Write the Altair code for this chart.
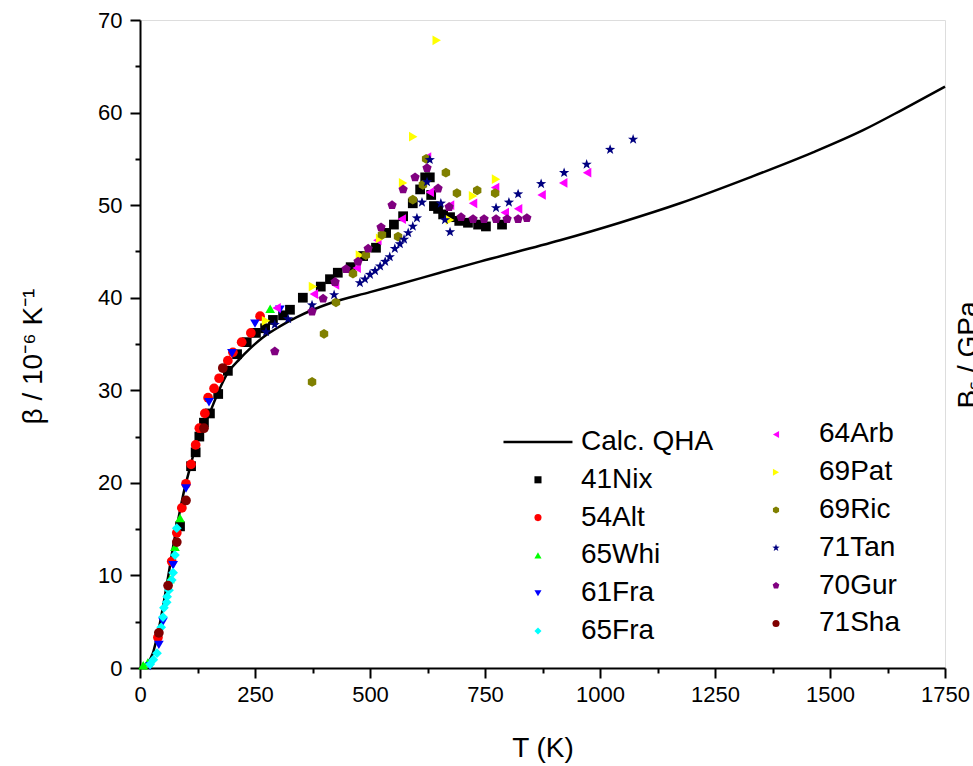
import altair as alt
import pandas as pd

# ---------------- data ----------------
calc_T = [0, 4, 15, 28, 39, 50, 61, 72, 83, 93, 109, 126, 152, 170, 191, 217, 239, 267, 304,
          341, 376, 413, 500, 559, 652, 739, 913, 1043, 1174, 1326, 1463, 1572, 1657, 1750]
calc_b = [0, 0.1, 0.5, 1.6, 3.8, 6.6, 9.8, 13.1, 16.0, 18.5, 21.7, 24.8, 27.6, 29.8, 31.9, 33.4,
          34.5, 35.7, 36.9, 37.9, 38.7, 39.4, 40.6, 41.4, 42.7, 43.9, 46.2, 48.1, 50.2, 53.0,
          55.7, 58.1, 60.3, 62.8]

nix_T = [87, 111, 121, 129, 139, 152, 170, 191, 211, 232, 252, 272, 289, 311, 326, 354, 393, 413,
         430, 458, 485, 513, 535, 552, 572, 593, 609, 620, 630, 633, 639, 648, 659, 674, 694, 713,
         735, 752, 787]
nix_b = [15.3, 21.8, 23.3, 25.0, 26.5, 27.5, 29.6, 32.1, 33.9, 35.2, 36.2, 36.7, 37.6, 38.1, 38.7,
         40.0, 41.2, 42.0, 42.7, 43.3, 44.5, 45.4, 47.0, 47.9, 48.8, 50.2, 51.7, 53.0, 53.0, 51.1,
         49.9, 49.6, 49.0, 48.7, 48.3, 48.1, 47.9, 47.7, 47.9]

alt_T = [39, 69, 80, 91, 100, 111, 121, 129, 141, 148, 161, 172, 191, 202, 221, 241, 261]
alt_b = [3.3, 11.5, 14.6, 17.3, 19.9, 22.0, 24.1, 25.9, 27.5, 29.2, 30.2, 31.3, 33.2, 34.1, 35.2,
         36.2, 38.0]

whi_T = [7, 17, 65, 76, 87, 283]
whi_b = [0.3, 0.6, 9.6, 13.1, 16.2, 38.8]

fra61_T = [22, 41, 50, 72, 100, 150, 200, 250, 304]
fra61_b = [0.2, 2.5, 5.0, 11.1, 19.4, 28.7, 34.0, 37.2, 38.7]

fra65_T = [22, 29, 37, 46, 50, 52, 58, 59, 63, 69, 72, 76, 80]
fra65_b = [0.4, 0.9, 1.6, 4.4, 5.5, 6.5, 7.1, 7.7, 8.4, 9.5, 10.3, 12.2, 15.1]

arb_T = [297, 378, 424, 471, 516, 569, 624, 630, 674, 724, 772, 793, 822, 873, 920, 972]
arb_b = [38.9, 40.4, 41.4, 43.2, 46.2, 48.5, 55.2, 51.4, 50.0, 50.2, 51.9, 49.2, 49.6, 51.1,
         52.4, 53.5]

pat_T = [274, 376, 478, 522, 572, 594, 645, 674, 724, 774]
pat_b = [37.5, 41.2, 44.6, 46.4, 52.4, 57.4, 67.8, 48.4, 51.0, 52.8]

ric_T = [374, 400, 426, 463, 491, 526, 561, 593, 615, 622, 665, 689, 733, 772]
ric_b = [30.9, 36.1, 39.5, 42.6, 44.6, 46.8, 46.6, 50.6, 52.2, 55.0, 53.5, 51.3, 51.6, 51.3]

tan_T = [274, 293, 322, 374, 422, 478, 489, 500, 511, 522, 533, 543, 554, 565, 574, 583, 593,
         602, 613, 624, 630, 654, 663, 674, 774, 802, 822, 872, 922, 971, 1022, 1072]
tan_b = [36.3, 37.1, 37.7, 39.2, 40.3, 41.6, 42.0, 42.5, 42.9, 43.4, 43.9, 44.4, 45.3, 45.8,
         46.3, 47.0, 47.7, 48.6, 50.3, 52.5, 54.9, 50.2, 48.4, 47.1, 49.7, 50.3, 51.2, 52.3,
         53.5, 54.4, 56.0, 57.1]

gur_T = [293, 374, 398, 424, 448, 474, 496, 524, 548, 572, 598, 624, 648, 672, 698, 724, 748,
         774, 798, 822, 841]
gur_b = [34.2, 38.5, 39.9, 41.7, 43.1, 43.9, 45.3, 47.6, 50.0, 51.7, 53.0, 54.0, 51.8, 49.8,
         48.7, 48.5, 48.5, 48.5, 48.5, 48.5, 48.6]

sha_T = [41, 61, 80, 100, 139, 180]
sha_b = [3.8, 8.9, 13.6, 18.1, 25.9, 32.4]

series_names = ["41Nix", "54Alt", "65Whi", "61Fra", "65Fra", "64Arb",
                "69Pat", "69Ric", "71Tan", "70Gur", "71Sha"]
series_T = [nix_T, alt_T, whi_T, fra61_T, fra65_T, arb_T, pat_T, ric_T, tan_T, gur_T, sha_T]
series_b = [nix_b, alt_b, whi_b, fra61_b, fra65_b, arb_b, pat_b, ric_b, tan_b, gur_b, sha_b]
calc_name = "Calc. QHA"

# ---------------- styles ----------------
colors = ["#000000", "#ff0000", "#00ff00", "#0000ff", "#00ffff", "#ff00ff",
          "#ffff00", "#808000", "#000080", "#800080", "#800000"]
HEX = "M0,-1L0.866,-0.5L0.866,0.5L0,1L-0.866,0.5L-0.866,-0.5Z"
STAR = ("M0,-1.1L0.26,-0.36L1.05,-0.34L0.42,0.14L0.65,0.89L0,0.44L-0.65,0.89"
        "L-0.42,0.14L-1.05,-0.34L-0.26,-0.36Z")
PENT = "M0,-1L0.951,-0.309L0.588,0.809L-0.588,0.809L-0.951,-0.309Z"
shapes = ["square", "circle", "triangle-up", "triangle-down", "diamond", "triangle-left",
          "triangle-right", HEX, STAR, PENT, "circle"]

FONT = "Liberation Sans"

# ---------------- tables ----------------
df_curve = pd.DataFrame({"T": calc_T, "beta": calc_b})
rows = []
for i, (name, Ts, bs) in enumerate(zip(series_names, series_T, series_b)):
    for t, b in zip(Ts, bs):
        rows.append({"T": t, "beta": b, "series": name, "idx": i})
df_pts = pd.DataFrame(rows)

leg_labels = [calc_name] + series_names
leg_rows = []
for k, lab in enumerate(leg_labels):
    col = 0 if k < 6 else 1
    row = k if k < 6 else k - 6
    leg_rows.append({"label": lab, "series": lab, "lc": col, "lr": row - 0.2 * col})
df_leg = pd.DataFrame(leg_rows)

# ---------------- scales / axes ----------------
xs = alt.Scale(domain=[0, 1750], nice=False, zero=False)
ys = alt.Scale(domain=[0, 70], nice=False, zero=False)
col_scale = alt.Scale(domain=series_names, range=colors)
shp_scale = alt.Scale(domain=series_names, range=shapes)

axis_common = dict(
    labelFont=FONT, labelFontSize=22, labelColor="black",
    titleFont=FONT, titleFontSize=28, titleFontWeight="normal", titleColor="black",
    domainColor="black", domainWidth=2, tickColor="black", tickWidth=2, grid=False,
)
xaxis = alt.Axis(
    title="T (K)", values=list(range(0, 1751, 125)), format="d",
    labelExpr="datum.value % 250 === 0 ? datum.label : ''",
    tickSize={"condition": {"test": "datum.value % 250 === 0", "value": 10}, "value": 5},
    labelPadding=6, labelFlush=False, labelOverlap=False,
    titleY=80, titleBaseline="middle", **axis_common,
)
yaxis = alt.Axis(
    title="β / 10⁻⁶ K⁻¹", values=list(range(0, 71, 5)), format="d",
    labelExpr="datum.value % 10 === 0 ? datum.label : ''",
    tickSize={"condition": {"test": "datum.value % 10 === 0", "value": 10}, "value": 5},
    labelPadding=8, labelFlush=False, labelOverlap=False,
    titleX=-107, titleY=336, titleAngle=270, titleBaseline="middle", **axis_common,
)

curve = alt.Chart(df_curve).mark_line(color="black", strokeWidth=2.5, interpolate="monotone").encode(
    x=alt.X("T:Q", scale=xs, axis=xaxis),
    y=alt.Y("beta:Q", scale=ys, axis=yaxis),
)
pts = alt.Chart(df_pts).mark_point(filled=True, opacity=1, size=95, strokeWidth=0).encode(
    x=alt.X("T:Q", scale=xs),
    y=alt.Y("beta:Q", scale=ys),
    color=alt.Color("series:N", scale=col_scale, legend=None),
    shape=alt.Shape("series:N", scale=shp_scale, legend=None),
    order=alt.Order("idx:Q"),
)
main = alt.layer(curve, pts)

# ---------------- legend ----------------
lx = alt.X("lc:Q", scale=alt.Scale(domain=[-1.672, 1.710], nice=False, zero=False), axis=None)
ly = alt.Y("lr:Q", scale=alt.Scale(domain=[-11.164, 5.979], nice=False, zero=False, reverse=True), axis=None)

leg_line = alt.Chart(df_leg).transform_filter(alt.datum.series == calc_name).mark_point(
    shape="stroke", size=69 * 69, filled=False, strokeWidth=2.5, color="black", opacity=1
).encode(x=lx, y=ly)
leg_pts = alt.Chart(df_leg).transform_filter(alt.datum.series != calc_name).mark_point(
    filled=True, opacity=1, size=50, strokeWidth=0
).encode(
    x=lx, y=ly,
    color=alt.Color("series:N", scale=col_scale, legend=None),
    shape=alt.Shape("series:N", scale=shp_scale, legend=None),
)
leg_text = alt.Chart(df_leg).mark_text(
    align="left", baseline="middle", dx=43, fontSize=28, font=FONT, color="black"
).encode(x=lx, y=ly, text="label:N")
legend = alt.layer(leg_line, leg_pts, leg_text)

# right-hand (cut off) axis title
blabel = alt.Chart(pd.DataFrame({"t": ["Bₛ / GPa"]})).mark_text(
    angle=270, align="center", baseline="alphabetic", fontSize=28, font=FONT, color="black"
).encode(x=alt.value(837), y=alt.value(335), text="t:N")

chart = alt.layer(main, legend, blabel).resolve_scale(
    x="independent", y="independent"
).properties(
    width=805, height=648,
    autosize=alt.AutoSizeParams(type="none"),
    padding={"left": 140, "top": 20, "right": 28, "bottom": 98},
).configure_view(stroke="black", strokeWidth=2).configure(background="white")

chart.save("out.html", embed_options={"renderer": "svg", "actions": False})
